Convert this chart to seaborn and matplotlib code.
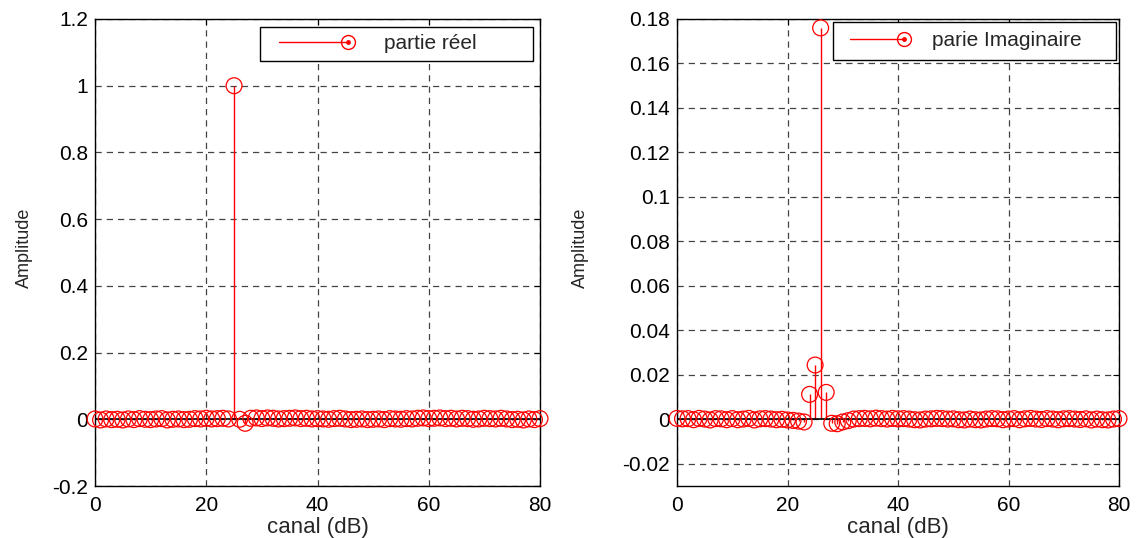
import numpy as np
import matplotlib
matplotlib.use("Agg")
import matplotlib.pyplot as plt
import seaborn as sns
from matplotlib.legend_handler import HandlerBase
from matplotlib.lines import Line2D
from matplotlib.ticker import FuncFormatter

# Donnees (81 canaux)
canal = list(range(81))

partie_reel = [
    0.001, -0.002, 0.001, -0.001, 0.000, -0.002, 0.001, -0.001, 0.002, 0.000,
    -0.001, 0.001, 0.002, -0.002, 0.000, 0.001, -0.001, 0.000, 0.002, 0.001,
    0.003, 0.001, 0.002, 0.003, 0.001, 1.000, 0.000, -0.012, 0.003, 0.004,
    0.002, 0.004, 0.003, 0.001, 0.002, 0.003, 0.004, 0.002, 0.003, 0.001,
    0.002, 0.001, 0.000, 0.002, 0.003, 0.001, -0.001, 0.000, 0.001, -0.001,
    0.000, 0.001, -0.001, 0.002, 0.001, 0.000, 0.002, 0.001, 0.003, 0.004,
    0.002, 0.003, 0.004, 0.002, 0.003, 0.001, 0.003, 0.002, 0.000, 0.001,
    0.003, 0.002, 0.001, 0.003, 0.001, -0.001, 0.000, -0.002, 0.001, -0.001,
    0.002,
]

partie_imag = [
    0.0004, 0.0002, 0.0003, -0.0002, 0.0004, 0.0001, -0.0003, 0.0003, 0.0002, -0.0002,
    0.0003, -0.0002, 0.0001, 0.0004, -0.0003, 0.0002, 0.0003, 0.0001, -0.0002, 0.0000,
    -0.0003, -0.0005, -0.0008, -0.0012, 0.0112, 0.0244, 0.1760, 0.0121, -0.0018, -0.0020,
    -0.0012, -0.0006, 0.0001, 0.0003, 0.0004, 0.0002, 0.0005, 0.0003, 0.0001, 0.0004,
    0.0002, 0.0003, 0.0001, -0.0002, -0.0003, 0.0001, 0.0002, 0.0004, 0.0003, 0.0001,
    0.0002, -0.0002, -0.0003, 0.0001, -0.0002, -0.0003, 0.0001, 0.0003, 0.0002, -0.0002,
    0.0001, 0.0003, -0.0002, 0.0002, 0.0004, 0.0001, -0.0001, 0.0003, 0.0001, -0.0002,
    0.0002, 0.0003, 0.0001, -0.0001, 0.0002, -0.0003, 0.0001, -0.0002, -0.0003, 0.0001,
    0.0003,
]

labels = ["partie réel", "parie Imaginaire"]
x_ticks = [0, 20, 40, 60, 80]
y_ticks_reel = np.arange(-0.2, 1.21, 0.2)
y_ticks_imag = np.arange(-0.02, 0.181, 0.02)

sns.set_style("white")
plt.rcParams["font.family"] = ["Liberation Sans", "DejaVu Sans"]


# poignee de legende facon MATLAB : trait puis cercle au bout
class StemHandler(HandlerBase):
    def __init__(self, start=0.15):
        super().__init__()
        self.start = start

    def create_artists(self, legend, orig, xdescent, ydescent, width, height, fontsize, trans):
        y = height / 2 - ydescent
        x0 = -xdescent + self.start * width
        x1 = width - xdescent
        line = Line2D([x0, x1], [y, y], color="red", lw=1.0)
        circ = Line2D([x1], [y], marker="o", mfc="none", mec="red", ms=10, mew=1.0)
        dot = Line2D([x1], [y], marker="o", color="red", ms=2.5)
        for a in (line, circ, dot):
            a.set_transform(trans)
        return [line, circ, dot]


def fmt(v, pos):
    return f"{round(v, 4):g}"


def tracer(ax, y, yticks, ylim, ylab_x):
    ax.vlines(canal, 0, y, color="red", lw=1.0, zorder=2)
    ax.plot([0, 80], [0, 0], color="black", lw=1.2, zorder=2)
    sns.scatterplot(x=canal, y=y, ax=ax, marker="o", s=130, fc="none",
                    ec="red", linewidth=0.9, zorder=3, clip_on=False)
    ax.set_xlim(0, 80)
    ax.set_ylim(*ylim)
    ax.set_xticks(x_ticks)
    ax.set_yticks(yticks)
    ax.yaxis.set_major_formatter(FuncFormatter(fmt))
    ax.grid(True, color="#444444", ls=(0, (5, 4)), lw=0.9)
    ax.tick_params(direction="in", length=4, top=True, right=True,
                   labelsize=15, colors="black", pad=5)
    ax.tick_params(axis="x", pad=7)
    for s in ax.spines.values():
        s.set_color("black")
        s.set_linewidth(1.0)
    ax.set_xlabel("canal (dB)", fontsize=16, labelpad=2)
    ax.set_ylabel("Amplitude", fontsize=13)
    ax.yaxis.set_label_coords(ylab_x, 0.51)


fig = plt.figure(figsize=(11.41, 5.38), dpi=100)
ax1 = fig.add_axes([95 / 1141, 52 / 538, 445 / 1141, 467 / 538])
ax2 = fig.add_axes([677 / 1141, 52 / 538, 442 / 1141, 467 / 538])

tracer(ax1, partie_reel, y_ticks_reel, (-0.2, 1.2), -0.14)
tracer(ax2, partie_imag, y_ticks_imag, (-0.03, 0.18), -0.20)

h = Line2D([], [])
legendes = [
    (ax1, labels[0], (0.371, 0.912, 0.613, 0.071), 3.85, 0.15, 1.75, 0.35),
    (ax2, labels[1], (0.353, 0.917, 0.640, 0.077), 2.95, 0.12, 1.35, 0.45),
]
for ax, lab, box, hl, start, tp, bp in legendes:
    leg = ax.legend([h], [lab], handler_map={Line2D: StemHandler(start)},
                    loc="upper left", bbox_to_anchor=box, mode="expand",
                    borderaxespad=0, fontsize=15, handlelength=hl,
                    handletextpad=tp, borderpad=bp,
                    fancybox=False, framealpha=1, edgecolor="black")
    leg.get_frame().set_linewidth(1.0)

plt.savefig("out.png", dpi=100)
